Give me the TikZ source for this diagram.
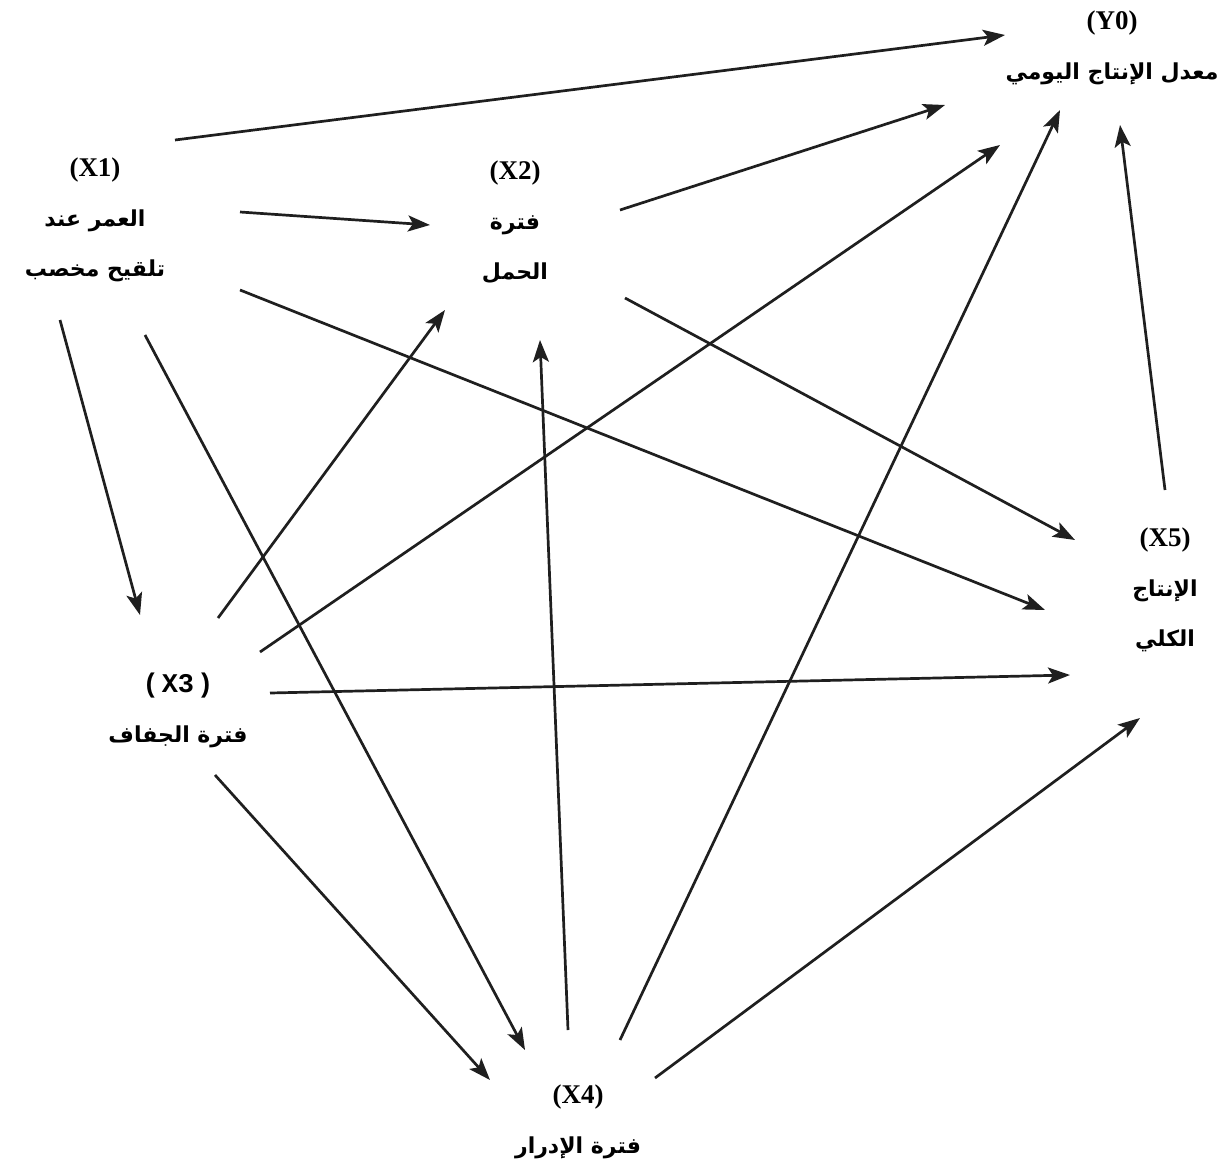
\documentclass[tikz,border=0pt]{standalone}
\usepackage{fontspec}
\usepackage{tikz}
\usetikzlibrary{arrows.meta}
\setmainfont{Liberation Serif}
\newfontfamily\arabicfont[Script=Arabic]{DejaVu Sans}
\newfontfamily\xmono{Liberation Mono}
\TeXXeTstate=1
\newcommand{\ar}[1]{{\arabicfont\bfseries\fontsize{11}{25}\selectfont\beginR #1\endR}}
\newcommand{\lab}[1]{{\fontsize{13.5}{25}\selectfont #1}}

\begin{document}
\begin{tikzpicture}[x=0.5pt,y=-0.5pt,
    var/.style={align=center,font=\bfseries\fontsize{11}{25}\selectfont},
    path/.style={draw=black!88,line width=1.35pt,-{Stealth[length=11pt,width=8pt,inset=2.5pt]}}]
  \useasboundingbox (0,0) rectangle (1231,1167);
  \node[var] (y0) at (1112,48) {\lab{(Y0)}\\ \ar{معدل الإنتاج اليومي}};
  \node[var] (x1) at (95,220) {\lab{(X1)}\\ \ar{العمر عند}\\ \ar{تلقيح مخصب}};
  \node[var] (x2) at (515,222) {\lab{(X2)}\\ \ar{فترة}\\ \ar{الحمل}};
  \node[var] (x3) at (178,710) {{\xmono\bfseries\fontsize{13.5}{25}\selectfont(\hspace{1.5pt}X3\hspace{1.5pt})}\\ \ar{فترة الجفاف}};
  \node[var] (x4) at (578,1122) {\lab{(X4)}\\ \ar{فترة الإدرار}};
  \node[var] (x5) at (1165,590) {\lab{(X5)}\\ \ar{الإنتاج}\\ \ar{الكلي}};
  \draw[path] ([shift={(80,-80)}]x1.center) -- ([shift={(-107,-13)}]y0.center);
  \draw[path] ([shift={(145,-8)}]x1.center) -- ([shift={(-85,3)}]x2.center);
  \draw[path] ([shift={(105,-12)}]x2.center) -- ([shift={(-167,57)}]y0.center);
  \draw[path] ([shift={(145,70)}]x1.center) -- ([shift={(-120,20)}]x5.center);
  \draw[path] ([shift={(110,76)}]x2.center) -- ([shift={(-90,-50)}]x5.center);
  \draw[path] ([shift={(-35,100)}]x1.center) -- ([shift={(-38,-95)}]x3.center);
  \draw[path] ([shift={(50,115)}]x1.center) -- ([shift={(-53,-72)}]x4.center);
  \draw[path] ([shift={(40,-92)}]x3.center) -- ([shift={(-70,88)}]x2.center);
  \draw[path] ([shift={(82,-58)}]x3.center) -- ([shift={(-112,97)}]y0.center);
  \draw[path] ([shift={(92,-17)}]x3.center) -- ([shift={(-95,85)}]x5.center);
  \draw[path] ([shift={(37,65)}]x3.center) -- ([shift={(-88,-42)}]x4.center);
  \draw[path] ([shift={(-10,-92)}]x4.center) -- ([shift={(25,118)}]x2.center);
  \draw[path] ([shift={(42,-82)}]x4.center) -- ([shift={(-52,62)}]y0.center);
  \draw[path] ([shift={(77,-44)}]x4.center) -- ([shift={(-25,128)}]x5.center);
  \draw[path] ([shift={(0,-100)}]x5.center) -- ([shift={(8,77)}]y0.center);
\end{tikzpicture}
\end{document}
